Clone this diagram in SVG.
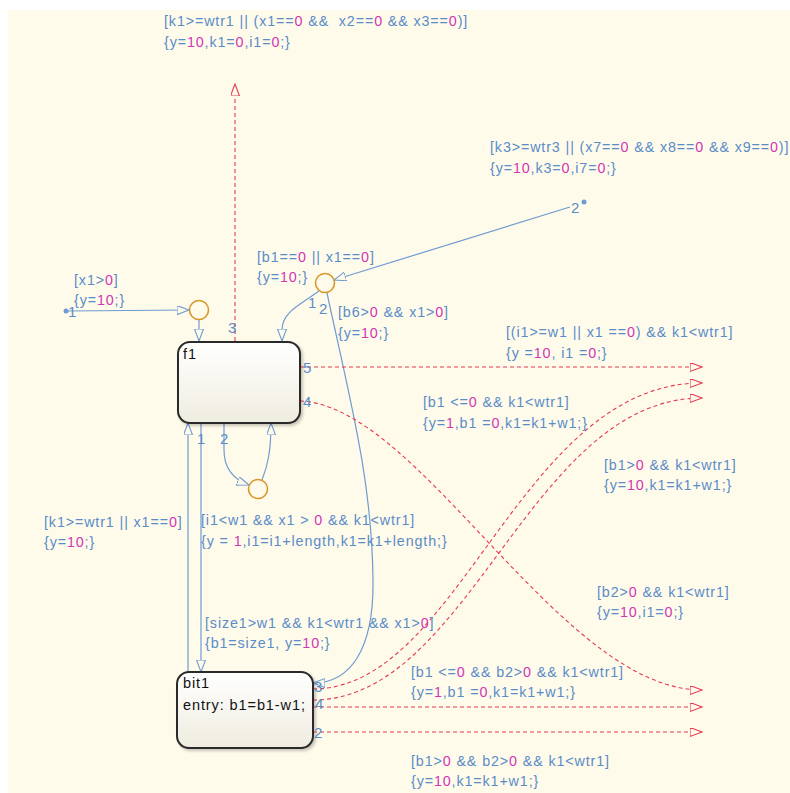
<svg xmlns="http://www.w3.org/2000/svg" width="790" height="793" viewBox="0 0 790 793">
  <style>
    .lbl { font-family: "Liberation Sans", Arial, sans-serif; font-size: 14.3px; fill: #5A8CC8; letter-spacing: 0.88px; }
    .n { fill: #D236B4; }
    .num { font-family: "Liberation Sans", Arial, sans-serif; font-size: 15px; fill: #5A8CC8; }
    .st { font-family: "Liberation Sans", Arial, sans-serif; font-size: 14.5px; fill: #111; letter-spacing: 0.9px; }
    .box { fill: url(#stateFill); stroke: #2A2A2A; stroke-width: 2; filter: url(#shadow); }
    .junc { fill: none; stroke: #D9962B; stroke-width: 1.6; }
    .tb { fill: none; stroke: #6F9BD3; stroke-width: 1.2; }
    .tr { fill: none; stroke: #E63950; stroke-width: 1.1; stroke-dasharray: 4 3; }
    .ab { marker-end: url(#arrowBlue); }
    .ar { marker-end: url(#arrowRed); }
  </style>
  <defs>
    <linearGradient id="stateFill" x1="0" y1="0" x2="0" y2="1">
      <stop offset="0" stop-color="#FFFFFF"/>
      <stop offset="1" stop-color="#EFECDF"/>
    </linearGradient>
    <filter id="shadow" x="-10%" y="-10%" width="130%" height="130%">
      <feDropShadow dx="2" dy="2" stdDeviation="1.5" flood-color="#000" flood-opacity="0.22"/>
    </filter>
    <marker id="arrowBlue" markerUnits="userSpaceOnUse" markerWidth="14" markerHeight="11" refX="12" refY="4.5" orient="auto">
      <path d="M0,0 L12,4.5 L0,9 Z" fill="#FFFBEB" stroke="#6F9BD3" stroke-width="1.1" stroke-dasharray="none"/>
    </marker>
    <marker id="arrowRed" markerUnits="userSpaceOnUse" markerWidth="14" markerHeight="11" refX="12" refY="4.5" orient="auto">
      <path d="M0,0 L12,4.5 L0,9 Z" fill="#FFFBEB" stroke="#E63950" stroke-width="1.1" stroke-dasharray="none"/>
    </marker>
  </defs>

  <!-- chart canvas -->
  <rect x="0" y="0" width="790" height="793" fill="#FFFFFF"/>
  <rect x="8" y="10" width="782" height="783" fill="#FFFBEB"/>

  <!-- transitions -->
  <g id="connectors">
    <!-- default transition into junction -->
    <circle cx="66" cy="311" r="2.5" fill="#6F9BD3"/>
    <path class="tb ab" d="M66,311 L189,310"/>
    <path class="tb ab" d="M199,320 L199,341"/>
    <!-- f1 exit 3 (upwards) -->
    <path class="tr ar" d="M235,341 L235,84"/>
    <!-- incoming from outside, 2 -->
    <circle cx="584" cy="202" r="2.5" fill="#6F9BD3"/>
    <path class="tb ab" d="M570,207 L334,280"/>
    <!-- junction B to f1 -->
    <path class="tb ab" d="M319,291 C300,305 282,312 282,330 L282,341"/>
    <!-- junction B to bit1 -->
    <path class="tb ab" d="M327,293 C350,400 372,480 373,580 C374,650 350,683 313,683"/>
    <!-- f1 exits 5 and 4 -->
    <path class="tr ar" d="M300,367 L702,367"/>
    <path class="tr ar" d="M300,401 C420,405 560,690 702,690"/>
    <!-- f1 <-> bit1 -->
    <path class="tb ab" d="M188,672 L188,423"/>
    <path class="tb ab" d="M201,423 L201,672"/>
    <!-- f1 self loop through junction C -->
    <path class="tb ab" d="M224,423 L224,450 C224,470 235,480 249,485"/>
    <path class="tb ab" d="M262,480 C268,465 271,450 271,423"/>
    <!-- bit1 exits -->
    <path class="tr ar" d="M313,689 C460,689 520,383 702,383"/>
    <path class="tr ar" d="M313,700 C470,700 530,398 702,398"/>
    <path class="tr ar" d="M313,707 L702,707"/>
    <path class="tr ar" d="M313,732 L702,732"/>
  </g>

  <!-- junctions -->
  <g id="junctionA"><circle class="junc" cx="199" cy="310" r="9.5"/></g>
  <g id="junctionB"><circle class="junc" cx="325" cy="283" r="9.5"/></g>
  <g id="junctionC"><circle class="junc" cx="258" cy="489" r="9.5"/></g>

  <!-- states -->
  <g id="f1">
    <rect class="box" x="178" y="342" width="122" height="81" rx="12"/>
    <text class="st" x="183" y="359">f1</text>
  </g>
  <g id="bit1">
    <rect class="box" x="177" y="672" width="136" height="76" rx="12"/>
    <text class="st" x="183" y="688">bit1</text>
    <text class="st" x="183" y="710">entry: b1=b1-w1;</text>
  </g>

  <!-- transition numbers -->
  <g id="transition-numbers">
    <text class="num" x="68" y="317">1</text>
    <text class="num" x="228" y="333">3</text>
    <text class="num" x="571" y="213">2</text>
    <text class="num" x="308" y="308">1</text>
    <text class="num" x="319" y="314">2</text>
    <text class="num" x="303" y="373">5</text>
    <text class="num" x="303" y="407">4</text>
    <text class="num" x="197" y="444">1</text>
    <text class="num" x="220" y="444">2</text>
    <text class="num" x="314" y="692">3</text>
    <text class="num" x="315" y="709">4</text>
    <text class="num" x="314" y="738">2</text>
  </g>

  <!-- transition labels -->
  <g id="labels">
    <text class="lbl" x="164" y="26" xml:space="preserve">[k1&gt;=wtr1 || (x1==<tspan class="n">0</tspan> &amp;&amp;  x2==<tspan class="n">0</tspan> &amp;&amp; x3==<tspan class="n">0</tspan>)]</text>
    <text class="lbl" x="164" y="47">{y=<tspan class="n">10</tspan>,k1=<tspan class="n">0</tspan>,i1=<tspan class="n">0</tspan>;}</text>

    <text class="lbl" x="490" y="152">[k3&gt;=wtr3 || (x7==<tspan class="n">0</tspan> &amp;&amp; x8==<tspan class="n">0</tspan> &amp;&amp; x9==<tspan class="n">0</tspan>)]</text>
    <text class="lbl" x="490" y="173">{y=<tspan class="n">10</tspan>,k3=<tspan class="n">0</tspan>,i7=<tspan class="n">0</tspan>;}</text>

    <text class="lbl" x="74" y="285">[x1&gt;<tspan class="n">0</tspan>]</text>
    <text class="lbl" x="74" y="305">{y=<tspan class="n">10</tspan>;}</text>

    <text class="lbl" x="257" y="262">[b1==<tspan class="n">0</tspan> || x1==<tspan class="n">0</tspan>]</text>
    <text class="lbl" x="257" y="282">{y=<tspan class="n">10</tspan>;}</text>

    <text class="lbl" x="338" y="317">[b6&gt;<tspan class="n">0</tspan> &amp;&amp; x1&gt;<tspan class="n">0</tspan>]</text>
    <text class="lbl" x="338" y="338">{y=<tspan class="n">10</tspan>;}</text>

    <text class="lbl" x="506" y="337">[(i1&gt;=w1 || x1 ==<tspan class="n">0</tspan>) &amp;&amp; k1&lt;wtr1]</text>
    <text class="lbl" x="506" y="358">{y =<tspan class="n">10</tspan>, i1 =<tspan class="n">0</tspan>;}</text>

    <text class="lbl" x="423" y="407">[b1 &lt;=<tspan class="n">0</tspan> &amp;&amp; k1&lt;wtr1]</text>
    <text class="lbl" x="423" y="428">{y=<tspan class="n">1</tspan>,b1 =<tspan class="n">0</tspan>,k1=k1+w1;}</text>

    <text class="lbl" x="604" y="470">[b1&gt;<tspan class="n">0</tspan> &amp;&amp; k1&lt;wtr1]</text>
    <text class="lbl" x="604" y="490">{y=<tspan class="n">10</tspan>,k1=k1+w1;}</text>

    <text class="lbl" x="44" y="527">[k1&gt;=wtr1 || x1==<tspan class="n">0</tspan>]</text>
    <text class="lbl" x="44" y="547">{y=<tspan class="n">10</tspan>;}</text>

    <text class="lbl" x="201" y="525">[i1&lt;w1 &amp;&amp; x1 &gt; <tspan class="n">0</tspan> &amp;&amp; k1&lt;wtr1]</text>
    <text class="lbl" x="201" y="546">{y = <tspan class="n">1</tspan>,i1=i1+length,k1=k1+length;}</text>

    <text class="lbl" x="597" y="597">[b2&gt;<tspan class="n">0</tspan> &amp;&amp; k1&lt;wtr1]</text>
    <text class="lbl" x="597" y="617">{y=<tspan class="n">10</tspan>,i1=<tspan class="n">0</tspan>;}</text>

    <text class="lbl" x="205" y="628">[size1&gt;w1 &amp;&amp; k1&lt;wtr1 &amp;&amp; x1&gt;<tspan class="n">0</tspan>]</text>
    <text class="lbl" x="205" y="648">{b1=size1, y=<tspan class="n">10</tspan>;}</text>

    <text class="lbl" x="411" y="677">[b1 &lt;=<tspan class="n">0</tspan> &amp;&amp; b2&gt;<tspan class="n">0</tspan> &amp;&amp; k1&lt;wtr1]</text>
    <text class="lbl" x="411" y="697">{y=<tspan class="n">1</tspan>,b1 =<tspan class="n">0</tspan>,k1=k1+w1;}</text>

    <text class="lbl" x="411" y="766">[b1&gt;<tspan class="n">0</tspan> &amp;&amp; b2&gt;<tspan class="n">0</tspan> &amp;&amp; k1&lt;wtr1]</text>
    <text class="lbl" x="411" y="786">{y=<tspan class="n">10</tspan>,k1=k1+w1;}</text>
  </g>
</svg>
